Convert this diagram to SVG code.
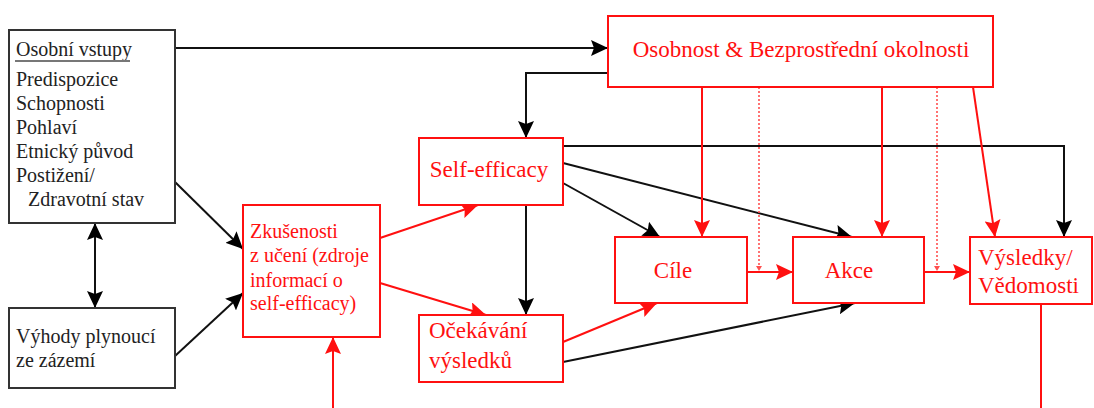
<svg xmlns="http://www.w3.org/2000/svg" width="1094" height="408" viewBox="0 0 1094 408">
<defs>
<style>
.bk{fill:#fff;stroke:#333;stroke-width:2}
.rd{fill:#fff;stroke:#ff1010;stroke-width:2}
.t{font-family:"Liberation Serif","Times New Roman",serif;font-size:20px;fill:#222}
.tr{font-family:"Liberation Serif","Times New Roman",serif;font-size:20px;fill:#ff1010}
.tl{font-family:"Liberation Serif","Times New Roman",serif;font-size:23px;fill:#ff1010}
.cb{fill:none;stroke:#111;stroke-width:2}
.cr{fill:none;stroke:#ff1010;stroke-width:2}
.cd{fill:none;stroke:#ff5050;stroke-width:1.6;stroke-dasharray:2 2}
</style>
<marker id="ab" markerUnits="userSpaceOnUse" markerWidth="18" markerHeight="16" refX="17" refY="8" orient="auto-start-reverse"><path d="M0,0 L17,8 L0,16 L3,8 z" fill="#000"/></marker>
<marker id="ar" markerUnits="userSpaceOnUse" markerWidth="18" markerHeight="16" refX="17" refY="8" orient="auto-start-reverse"><path d="M0,0 L17,8 L0,16 L3,8 z" fill="#ff1010"/></marker>
<marker id="as" markerUnits="userSpaceOnUse" markerWidth="6" markerHeight="6" refX="5" refY="3" orient="auto"><path d="M0,0 L5,3 L0,6 z" fill="#ff5050"/></marker>
</defs>
<rect width="1094" height="408" fill="#fff"/>
<g id="connectors">
<path class="cb" d="M175,48 H608" marker-end="url(#ab)"/>
<path class="cb" d="M608,73 H526 V138" marker-end="url(#ab)"/>
<path class="cb" d="M563,146 H1064 V237" marker-end="url(#ab)"/>
<path class="cb" d="M563,183 L660,237" marker-end="url(#ab)"/>
<path class="cb" d="M563,163 L852,237" marker-end="url(#ab)"/>
<path class="cb" d="M526,205 V315" marker-end="url(#ab)"/>
<path class="cb" d="M95,223 V308" marker-start="url(#ab)" marker-end="url(#ab)"/>
<path class="cb" d="M175,182 L243,249" marker-end="url(#ab)"/>
<path class="cb" d="M175,356 L243,293" marker-end="url(#ab)"/>
<path class="cb" d="M563,362 L855,303" marker-end="url(#ab)"/>
<path class="cr" d="M380,238 L478,205" marker-end="url(#ar)"/>
<path class="cr" d="M380,283 L486,315" marker-end="url(#ar)"/>
<path class="cr" d="M563,342 L657,303" marker-end="url(#ar)"/>
<path class="cr" d="M702,87 V237" marker-end="url(#ar)"/>
<path class="cr" d="M882,87 V237" marker-end="url(#ar)"/>
<path class="cr" d="M973,87 L995,237" marker-end="url(#ar)"/>
<path class="cr" d="M747,272 H793" marker-end="url(#ar)"/>
<path class="cr" d="M924,272 H970" marker-end="url(#ar)"/>
<path class="cr" d="M333,408 V337" marker-end="url(#ar)"/>
<path class="cr" d="M1041,304 V408"/>
<path class="cd" d="M759,87 V271" marker-end="url(#as)"/>
<path class="cd" d="M937,87 V271" marker-end="url(#as)"/>
</g>
<g id="osobni-vstupy">
<rect class="bk" x="9" y="30" width="166" height="193"/>
<text class="t" x="16" y="56">Osobní vstupy</text>
<line x1="15" y1="61" x2="130" y2="61" stroke="#777" stroke-width="2"/>
<text class="t" x="16" y="86">Predispozice</text>
<text class="t" x="16" y="110">Schopnosti</text>
<text class="t" x="16" y="134">Pohlaví</text>
<text class="t" x="16" y="158">Etnický původ</text>
<text class="t" x="16" y="182">Postižení/</text>
<text class="t" x="28" y="206">Zdravotní stav</text>
</g>
<g id="vyhody">
<rect class="bk" x="9" y="308" width="166" height="80"/>
<text class="t" x="16" y="343">Výhody plynoucí</text>
<text class="t" x="16" y="367">ze zázemí</text>
</g>
<g id="zkusenosti">
<rect class="rd" x="243" y="205" width="137" height="132"/>
<text class="tr" x="250" y="238">Zkušenosti</text>
<text class="tr" x="250" y="262">z učení (zdroje</text>
<text class="tr" x="250" y="287">informací o</text>
<text class="tr" x="250" y="310">self-efficacy)</text>
</g>
<g id="self-efficacy">
<rect class="rd" x="419" y="138" width="144" height="67"/>
<text class="tl" x="489" y="177" text-anchor="middle">Self-efficacy</text>
</g>
<g id="ocekavani">
<rect class="rd" x="419" y="315" width="144" height="67"/>
<text class="tl" x="429" y="338">Očekávání</text>
<text class="tl" x="429" y="368">výsledků</text>
</g>
<g id="osobnost">
<rect class="rd" x="608" y="16" width="385" height="71"/>
<text class="tl" x="801" y="57" text-anchor="middle">Osobnost &amp; Bezprostřední okolnosti</text>
</g>
<g id="cile">
<rect class="rd" x="615" y="237" width="132" height="66"/>
<text class="tl" x="673" y="278" text-anchor="middle">Cíle</text>
</g>
<g id="akce">
<rect class="rd" x="793" y="237" width="131" height="66"/>
<text class="tl" x="849" y="278" text-anchor="middle">Akce</text>
</g>
<g id="vysledky">
<rect class="rd" x="970" y="237" width="122" height="67"/>
<text class="tl" x="978" y="265">Výsledky/</text>
<text class="tl" x="978" y="293">Vědomosti</text>
</g>
</svg>
